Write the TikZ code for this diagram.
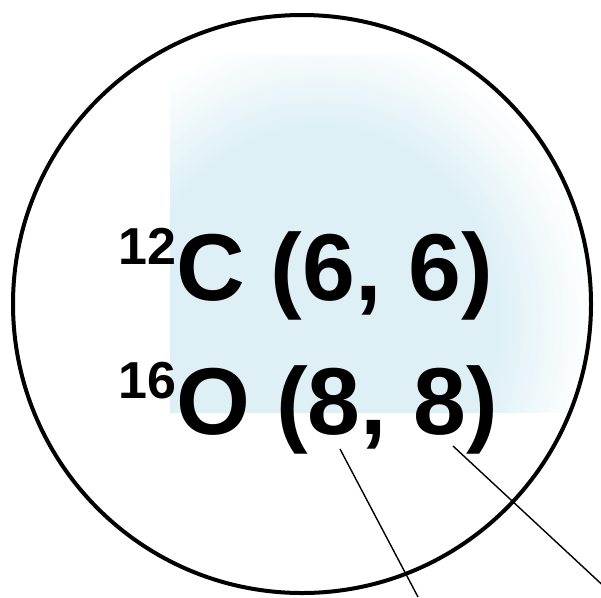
\documentclass[tikz,border=0pt]{standalone}
\usepackage{fontspec}
\setmainfont{Liberation Sans}
\usetikzlibrary{positioning}
\definecolor{paleblue}{RGB}{222,240,246}
\tikzset{
  isotope/.style={anchor=base west, inner sep=0pt, font=\bfseries\fontsize{95}{95}\selectfont},
  pointer/.style={draw=black, line width=1.4pt}
}
\newcommand{\mass}[1]{\raisebox{36pt}{\fontsize{52}{52}\selectfont #1}}

\begin{document}
\begin{tikzpicture}[x=1pt, y=-1pt]
            \useasboundingbox (0,0) rectangle (601,597);
            % soft blue patch behind the text
            \begin{scope}
              \clip (170,55) rectangle (601,412);
              \foreach \i in {0,...,40}{
                \pgfmathsetmacro{\rx}{272-92*\i/40}
                \pgfmathsetmacro{\ry}{290-95*\i/40}
                \pgfmathsetmacro{\tint}{100*\i/40}
                \fill[paleblue!\tint!white] (320,320) ellipse [x radius=\rx, y radius=\ry];
              }
            \end{scope}
            \draw[line width=4pt] (302,304) circle (289);
            \node[isotope] (carbon) at (118,300) {\mass{12}C (6, 6)};
            \node[isotope] (oxygen) at (118,434) {\mass{16}O (8, 8)};
            \coordinate (p1) at (340,449);
            \coordinate (p2) at (453,446);
            \coordinate (q1) at (418,597);
            \coordinate (q2) at (610,592);
            \draw[pointer] (p1) -- (q1);
            \draw[pointer] (p2) -- (q2);
\end{tikzpicture}
\end{document}
